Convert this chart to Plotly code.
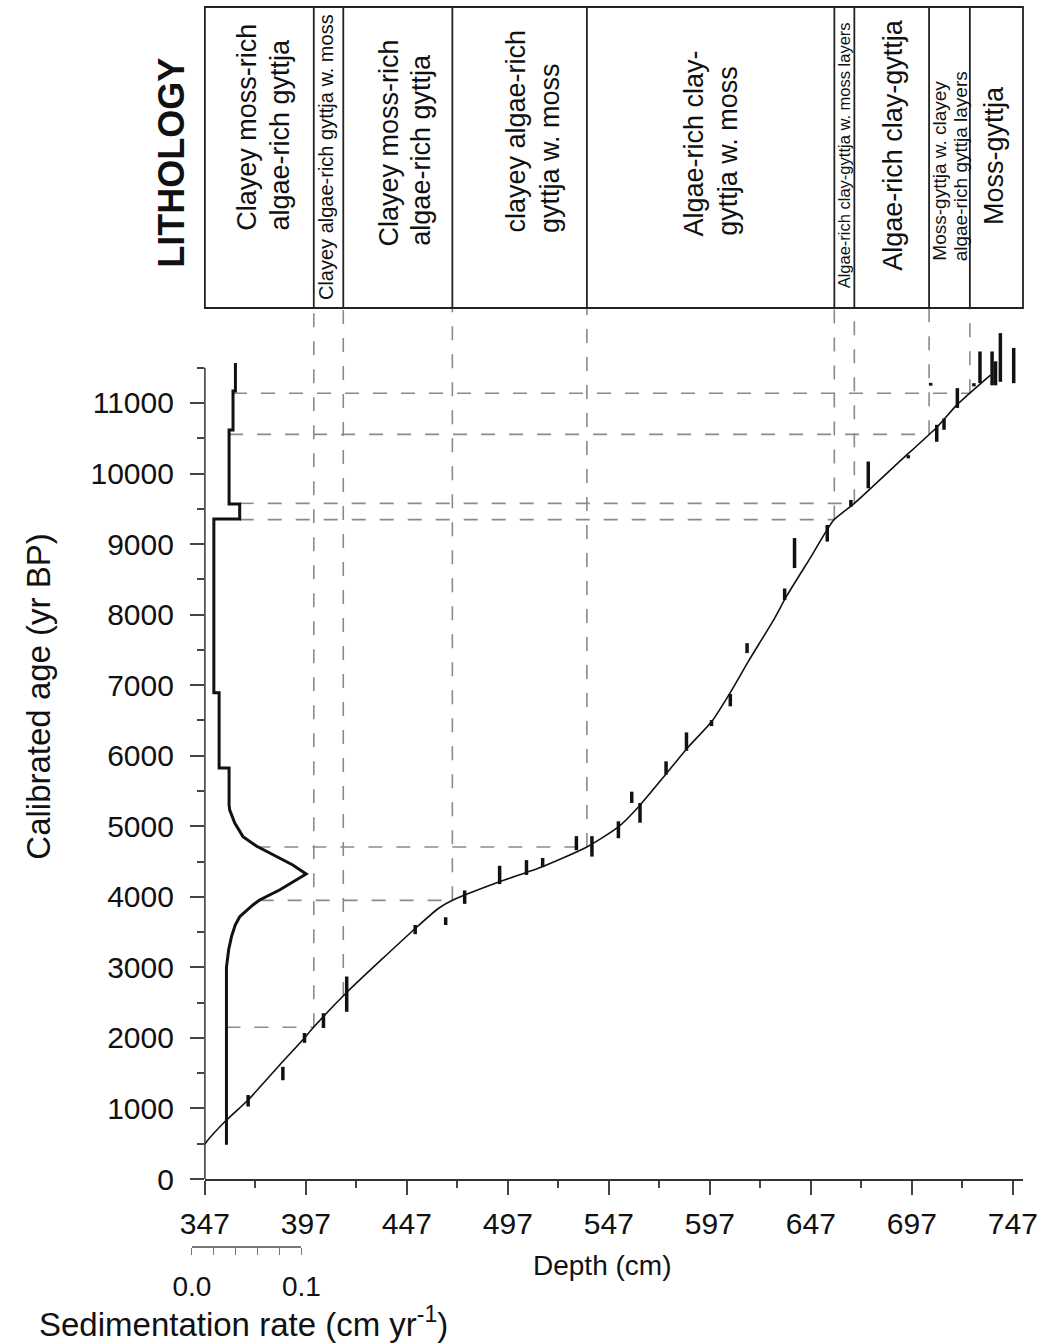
import numpy as np
import plotly.graph_objects as go

# ---------------- data ----------------
# age-depth model (depth in cm, calibrated age in yr BP)
model_depth = [347.0, 347.8, 357.7, 368.4, 384.0, 396.3, 399.6, 416.9, 451.4, 462.9,
               469.8, 492.5, 513.7, 536.1, 551.7, 561.6, 574.9, 586.3, 597.8, 607.6,
               615.9, 629.0, 634.8, 647.1, 658.3, 668.5, 689.9, 709.6, 719.5, 735.9]
model_age = [496, 529, 836, 1120, 1616, 1999, 2112, 2636, 3558, 3841,
             3955, 4210, 4422, 4706, 4990, 5273, 5727, 6123, 6480, 6920,
             7330, 7948, 8254, 8822, 9340, 9577, 10144, 10663, 10980, 11396]

# dated levels (depth) with calibrated age ranges
date_depth = [368.4, 385.6, 396.3, 405.7, 417.2, 451.1, 466.2, 475.6, 492.9, 506.2,
              514.2, 530.9, 538.6, 551.7, 558.3, 562.4, 575.3, 585.4, 597.8, 607.1,
              615.4, 634.0, 638.9, 655.1, 666.8, 675.4, 695.2, 706.3, 709.3, 712.9,
              719.5, 727.7, 730.7, 736.7, 738.4, 740.8, 747.4]
date_age_lo = [1027, 1400, 1930, 2140, 2370, 3470, 3600, 3900, 4180, 4310,
               4420, 4660, 4570, 4830, 5330, 5050, 5730, 6070, 6420, 6700,
               7455, 8207, 8660, 9035, 9530, 9790, 10215, 11245, 10450, 10620,
               10930, 11235, 11280, 11250, 11250, 11300, 11280]
date_age_hi = [1190, 1590, 2070, 2350, 2870, 3600, 3710, 4090, 4440, 4520,
               4550, 4860, 4860, 5070, 5490, 5330, 5920, 6330, 6505, 6875,
               7595, 8370, 9085, 9270, 9625, 10170, 10260, 11285, 10690, 10780,
               11210, 11280, 11730, 11730, 11590, 11990, 11780]

# sedimentation rate (cm/yr) against age
sed_age = [485, 3000, 3250, 3435, 3600, 3718, 3884, 3955, 4096, 4238,
           4323, 4451, 4593, 4720, 4853, 5046, 5230, 5300, 5826, 5826,
           6893, 6893, 9355, 9355, 9568, 9568, 10617, 10617, 11170, 11170, 11566]
sed_rate = [0.0315, 0.0315, 0.0335, 0.0361, 0.0395, 0.0436, 0.0557, 0.0618, 0.080, 0.0952,
            0.1043, 0.0921, 0.0739, 0.0588, 0.0466, 0.0391, 0.0345, 0.0339, 0.0339, 0.0248,
            0.0248, 0.0200, 0.0200, 0.0436, 0.0436, 0.0339, 0.0339, 0.0375, 0.0375, 0.0397, 0.0397]

# lithology units (boundaries in cm depth)
lith_bounds = [347, 400.9, 415.5, 469.5, 536.1, 658.6, 668.5, 705.5, 725.7, 752]
lith_labels = [
    ["Clayey moss-rich", "algae-rich gyttja"],
    ["Clayey algae-rich gyttja w. moss"],
    ["Clayey moss-rich", "algae-rich gyttja"],
    ["clayey algae-rich", "gyttja w. moss"],
    ["Algae-rich clay-", "gyttja w. moss"],
    ["Algae-rich clay-gyttja w. moss layers"],
    ["Algae-rich clay-gyttja"],
    ["Moss-gyttja w. clayey", "algae-rich gyttja layers"],
    ["Moss-gyttja"],
]
guide_horizontal = [True, False, True, True, True, True, True, True]

depth_tick0, depth_dtick = 347, 50
age_ticks = list(range(0, 11001, 1000))
age_minor = list(range(500, 11501, 1000))
age_axis_top = 11500
rate_ticks = [0.0, 0.1]
rate_ticktext = ["0.0", "0.1"]
rate_minor_step = 0.02

# ---------------- layout geometry (pixels) ----------------
W, H = 1047, 1343
PX_L, PX_R = 185, 1027          # paper horizontal extent
PY_T, PY_B = 5, 1262            # paper vertical extent
PLOT_L, PLOT_B, PLOT_T = 205, 1179, 308
D0, D1 = 347, 752
A0, A1 = 0, 12346
RATE_ZERO_PX, RATE_PX_PER_UNIT = 192, 1100
BOX_TOP = 7


def paper_x(px):
    return (px - PX_L) / (PX_R - PX_L)


def paper_y(py):
    return (PY_B - py) / (PY_B - PY_T)


R0 = (PLOT_L - RATE_ZERO_PX) / RATE_PX_PER_UNIT
R1 = (PX_R - RATE_ZERO_PX) / RATE_PX_PER_UNIT

FONT = "Liberation Sans, Arial, Helvetica, sans-serif"
GUIDE = dict(color="#8a8a8a", width=1.6, dash="14px,14px")

fig = go.Figure()

# ---- guide dashed lines ----
inner = lith_bounds[1:-1]
b_ages = np.interp(inner, model_depth, model_age)


def rate_at(a):
    near = [r for ag, r in zip(sed_age, sed_rate) if abs(ag - a) <= 20]
    return max(near) if near else float(np.interp(a, sed_age, sed_rate))


def rate_to_depth(r):
    return D0 + (r - R0) / (R1 - R0) * (D1 - D0)


vx, vy, hx, hy = [], [], [], []
for b, a, hz in zip(inner, b_ages, guide_horizontal):
    vx += [b, b, None]
    vy += [a, A1, None]
    if hz:
        hx += [rate_to_depth(rate_at(a)), b, None]
        hy += [a, a, None]
fig.add_trace(go.Scatter(x=vx, y=vy, mode="lines", line=GUIDE, hoverinfo="skip", showlegend=False))
fig.add_trace(go.Scatter(x=hx, y=hy, mode="lines", line=GUIDE, hoverinfo="skip", showlegend=False))

# ---- age-depth model ----
fig.add_trace(go.Scatter(x=model_depth, y=model_age, mode="lines",
                         line=dict(color="#111", width=1.6, shape="spline", smoothing=0.6),
                         hoverinfo="skip", showlegend=False))

# ---- dated age ranges ----
ex, ey = [], []
for d, lo, hi in zip(date_depth, date_age_lo, date_age_hi):
    ex += [d, d, None]
    ey += [lo, hi, None]
fig.add_trace(go.Scatter(x=ex, y=ey, mode="lines", line=dict(color="#111", width=3.5),
                         hoverinfo="skip", showlegend=False))

# ---- sedimentation rate ----
fig.add_trace(go.Scatter(x=sed_rate, y=sed_age, mode="lines", xaxis="x2", yaxis="y",
                         line=dict(color="#111", width=3), hoverinfo="skip", showlegend=False))

# dummy trace so the rate scale axis is drawn
fig.add_trace(go.Scatter(x=[rate_ticks[0], rate_ticks[-1]], y=[None, None], xaxis="x3", yaxis="y",
                         mode="lines", hoverinfo="skip", showlegend=False))

# ---- shapes: lithology box and y axis line ----
shapes = [
    dict(type="rect", xref="x domain", yref="paper", x0=0, x1=1,
         y0=paper_y(PLOT_T), y1=paper_y(BOX_TOP), line=dict(color="#222", width=1.8)),
    dict(type="line", xref="x domain", yref="y", x0=0, x1=0, y0=0, y1=age_axis_top,
         line=dict(color="#333", width=1.5)),
]
for b in inner:
    shapes.append(dict(type="line", xref="x", yref="paper", x0=b, x1=b,
                       y0=paper_y(PLOT_T), y1=paper_y(BOX_TOP), line=dict(color="#222", width=1.8)))

# ---- annotations ----
lith_font = [27, 20, 27, 27, 27, 16.5, 27, 19, 27]
lith_bottom_px = [233, 302, 248, 235, 238, 290, 273, 263, 227]
lith_line_gap = [33.3, 0, 31.7, 35, 33.3, 0, 0, 21.7, 0]
lith_xshift = [3.6, -2.5, 7, 13, 0.5, 0, 1, 0, -3]

ann = []
for i, lines in enumerate(lith_labels):
    mid = (lith_bounds[i] + lith_bounds[i + 1]) / 2
    n = len(lines)
    for j, t in enumerate(lines):
        ann.append(dict(text=t, x=mid, xref="x", y=paper_y(lith_bottom_px[i]), yref="paper",
                        xanchor="center", yanchor="bottom", textangle=-90, showarrow=False,
                        xshift=lith_xshift[i] + (j - (n - 1) / 2) * lith_line_gap[i],
                        font=dict(family=FONT, size=lith_font[i], color="#111")))

ann += [
    dict(text="<b>LITHOLOGY</b>", x=paper_x(171.7), y=paper_y(163), xref="paper", yref="paper",
         textangle=-90, showarrow=False, xanchor="center", yanchor="middle",
         font=dict(family=FONT, size=36, color="#111")),
    dict(text="Calibrated age (yr BP)", x=paper_x(37), y=paper_y(697), xref="paper", yref="paper",
         textangle=-90, showarrow=False, xanchor="center", yanchor="middle",
         font=dict(family=FONT, size=33, color="#111")),
    dict(text="Depth (cm)", x=paper_x(604), y=paper_y(1265), xref="paper", yref="paper",
         showarrow=False, xanchor="center", yanchor="middle",
         font=dict(family=FONT, size=28, color="#111")),
    dict(text="Sedimentation rate (cm yr<sup>-1</sup>)", x=paper_x(244), y=paper_y(1322),
         xref="paper", yref="paper", showarrow=False, xanchor="center", yanchor="middle",
         font=dict(family=FONT, size=33, color="#111")),
]

fig.update_layout(
    width=W, height=H,
    margin=dict(l=PX_L, r=W - PX_R, t=PY_T, b=H - PY_B, pad=0),
    paper_bgcolor="white", plot_bgcolor="rgba(0,0,0,0)",
    font=dict(family=FONT, color="#111"),
    showlegend=False,
    shapes=shapes, annotations=ann,
    xaxis=dict(domain=[paper_x(PLOT_L), 1], range=[D0, D1], tickmode="linear",
               tick0=depth_tick0, dtick=depth_dtick, ticks="outside", ticklen=14, tickwidth=1.5,
               tickcolor="#444", showline=True, linecolor="#333", linewidth=1.5,
               showgrid=False, zeroline=False, tickfont=dict(size=30, family=FONT, color="#111"),
               ticklabelstandoff=3,
               minor=dict(dtick=depth_dtick / 2, tick0=depth_tick0, ticks="outside", ticklen=7,
                          tickwidth=1.5, tickcolor="#444", showgrid=False)),
    xaxis2=dict(overlaying="x", range=[R0, R1], visible=False, showgrid=False, zeroline=False),
    xaxis3=dict(domain=[paper_x(RATE_ZERO_PX), paper_x(RATE_ZERO_PX + 0.1 * RATE_PX_PER_UNIT)],
                range=[0, 0.1], anchor="free", position=paper_y(1247),
                tickmode="array", tickvals=rate_ticks, ticktext=rate_ticktext,
                ticks="outside", ticklen=7, tickwidth=1.2, tickcolor="#777",
                showline=True, linecolor="#777", linewidth=1.5, showgrid=False, zeroline=False,
                tickfont=dict(size=28, family=FONT, color="#111"), ticklabelstandoff=8,
                minor=dict(dtick=rate_minor_step, tick0=0, ticks="outside", ticklen=7,
                           tickwidth=1.2, tickcolor="#777", showgrid=False)),
    yaxis=dict(domain=[paper_y(PLOT_B), paper_y(PLOT_T)], range=[A0, A1],
               tickmode="array", tickvals=age_ticks, tickformat="d",
               ticks="outside", ticklen=14, tickwidth=1.5,
               tickcolor="#444", showline=False, showgrid=False, zeroline=False,
               tickfont=dict(size=30, family=FONT, color="#111"), ticklabelstandoff=10,
               minor=dict(tickmode="array", tickvals=age_minor, ticks="outside", ticklen=7,
                          tickwidth=1.5, tickcolor="#444", showgrid=False)),
)

fig.write_html("out.html", config={"displayModeBar": False},
               post_script="document.body.style.margin='0';")
